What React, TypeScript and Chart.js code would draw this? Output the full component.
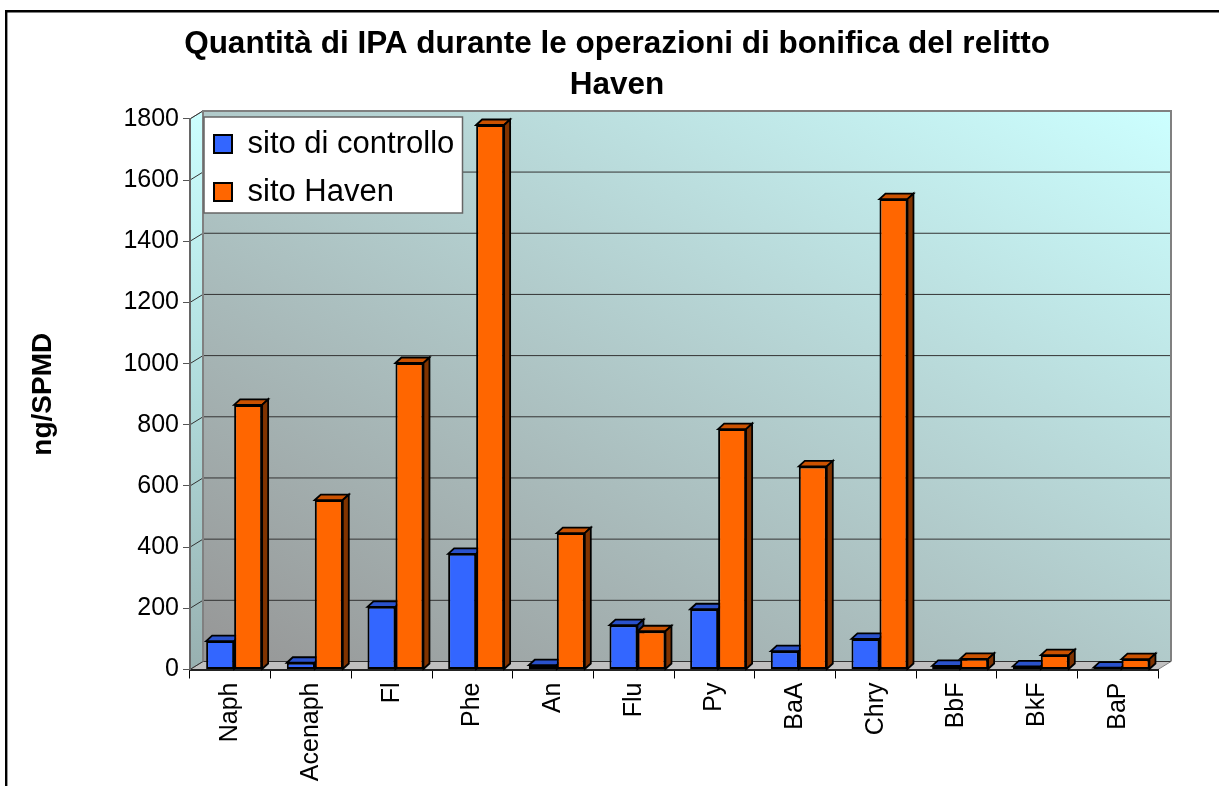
import React, { useEffect, useRef } from "react";
import { Chart, registerables } from "chart.js";

Chart.register(...registerables);

const categories = ["Naph", "Acenaph", "Fl", "Phe", "An", "Flu", "Py", "BaA", "Chry", "BbF", "BkF", "BaP"];
const controlSite = [93, 22, 205, 378, 14, 145, 197, 60, 100, 12, 10, 6];
const havenSite = [865, 554, 1002, 1780, 446, 125, 786, 664, 1538, 35, 47, 34];
const titleLines = ["Quantità di IPA durante le operazioni di bonifica del relitto", "Haven"];
const yTitle = "ng/SPMD";
const seriesNames = ["sito di controllo", "sito Haven"];

const FONT = "'Liberation Sans', Arial, sans-serif";
const WALL_DX = 13;
const WALL_DY = 8;
const BAR_SHIFT = 3.8;
const BAR_DX = 6;
const BAR_DY = 5.5;
const faces = [
  { top: "#2A52CC", side: "#1A337F" },
  { top: "#CC5200", side: "#803300" },
];

function poly(ctx: CanvasRenderingContext2D, pts: number[][], fill: string | CanvasGradient, stroke?: string, lw = 1) {
  ctx.beginPath();
  pts.forEach((p, i) => (i ? ctx.lineTo(p[0], p[1]) : ctx.moveTo(p[0], p[1])));
  ctx.closePath();
  ctx.fillStyle = fill;
  ctx.fill();
  if (stroke) {
    ctx.strokeStyle = stroke;
    ctx.lineWidth = lw;
    ctx.stroke();
  }
}

const scenePlugin = {
  id: "scene",
  afterLayout(chart: any) {
    const t = chart.titleBlock;
    t.left += 38;
    t.right += 38;
    const l = chart.legend;
    const w = l.width;
    const h = l.height;
    l.left = 197;
    l.top = 111.5;
    l.right = l.left + w;
    l.bottom = l.top + h;
  },
  afterDatasetsUpdate(chart: any) {
    chart.data.datasets.forEach((_: any, i: number) => {
      chart.getDatasetMeta(i).data.forEach((bar: any) => {
        bar.x += BAR_SHIFT;
      });
    });
  },
  beforeDraw(chart: any) {
    const { ctx, chartArea: a, scales, width, height } = chart;
    const y = scales.y;
    const L = a.left, R = a.right, T = a.top, B = a.bottom;
    ctx.save();
    // outer frame
    ctx.strokeStyle = "#000";
    ctx.lineWidth = 2.4;
    ctx.beginPath();
    ctx.moveTo(6.2, height + 5);
    ctx.lineTo(6.2, 11.2);
    ctx.lineTo(width + 5, 11.2);
    ctx.stroke();

    const bx = L + WALL_DX;
    const bxR = R + WALL_DX;
    const bT = T - WALL_DY;
    const bB = B - WALL_DY;
    // back wall: gradient stretched corner to corner in the wall's own unit square
    ctx.save();
    ctx.translate(bx, bT);
    ctx.scale(bxR - bx, bB - bT);
    const grad = ctx.createLinearGradient(0, 1, 1, 0);
    grad.addColorStop(0, "#969696");
    grad.addColorStop(1, "#CCFFFF");
    ctx.fillStyle = grad;
    ctx.fillRect(0, 0, 1, 1);
    ctx.restore();
    // left wall
    const side = ctx.createLinearGradient(L, B, bx, T - WALL_DY);
    side.addColorStop(0, "#98B0B0");
    side.addColorStop(0.5, "#B0DCDC");
    side.addColorStop(1, "#CCFFFF");
    poly(ctx, [[L, T], [bx, bT], [bx, bB], [L, B]], side, "#808080", 1);
    // floor
    poly(ctx, [[L, B], [bx, bB], [bxR, bB], [R, B]], "#C0C0C0", "#808080", 1);
    // grid lines
    y.ticks.forEach((tk: any) => {
      const py = y.getPixelForValue(tk.value);
      ctx.strokeStyle = "#333";
      ctx.lineWidth = 1;
      ctx.beginPath();
      ctx.moveTo(L, py);
      ctx.lineTo(bx, py - WALL_DY);
      ctx.lineTo(bxR, py - WALL_DY);
      ctx.stroke();
    });
    // wall outline on top of grid lines
    ctx.strokeStyle = "#808080";
    ctx.lineWidth = 2;
    ctx.beginPath();
    ctx.moveTo(bx, bB);
    ctx.lineTo(bx, bT);
    ctx.lineTo(bxR, bT);
    ctx.lineTo(bxR, bB);
    ctx.stroke();
    // legend panel
    ctx.fillStyle = "#fff";
    ctx.strokeStyle = "#666";
    ctx.lineWidth = 1.5;
    ctx.fillRect(204, 117, 258.5, 96);
    ctx.strokeRect(204, 117, 258.5, 96);
    ctx.restore();
  },
  beforeDatasetsDraw(chart: any) {
    const { ctx } = chart;
    ctx.save();
    chart.data.datasets.forEach((_: any, i: number) => {
      chart.getDatasetMeta(i).data.forEach((bar: any) => {
        const l = bar.x - bar.width / 2;
        const r = bar.x + bar.width / 2;
        const t = bar.y;
        const b = bar.base;
        poly(ctx, [[l, t], [l + BAR_DX, t - BAR_DY], [r + BAR_DX, t - BAR_DY], [r, t]], faces[i].top, "#000", 1.8);
        poly(ctx, [[r, t], [r + BAR_DX, t - BAR_DY], [r + BAR_DX, b - BAR_DY], [r, b]], faces[i].side, "#000", 1.8);
      });
    });
    ctx.restore();
  },
};

export default function App() {
  const ref = useRef<HTMLCanvasElement>(null);
  useEffect(() => {
    const chart = new Chart(ref.current as HTMLCanvasElement, {
      type: "bar",
      data: {
        labels: categories,
        datasets: [
          {
            label: seriesNames[0],
            data: controlSite,
            backgroundColor: "#3366FF",
            borderColor: "#000",
            borderWidth: 2,
            borderSkipped: false,
            barPercentage: 1,
            categoryPercentage: 0.694,
          },
          {
            label: seriesNames[1],
            data: havenSite,
            backgroundColor: "#FF6600",
            borderColor: "#000",
            borderWidth: 2,
            borderSkipped: false,
            barPercentage: 1,
            categoryPercentage: 0.694,
          },
        ],
      },
      options: {
        responsive: false,
        animation: false,
        layout: { padding: { left: 0, right: 61, top: 24, bottom: 0 } },
        plugins: {
          tooltip: { enabled: false },
          title: {
            display: true,
            text: titleLines,
            color: "#000",
            font: { family: FONT, size: 31.5, weight: "bold", lineHeight: 1.3 },
            padding: { top: 0, bottom: 13 },
          },
          legend: {
            display: true,
            position: "chartArea",
            align: "start",
            labels: {
              color: "#000",
              boxWidth: 18,
              boxHeight: 18,
              padding: 17,
              font: { family: FONT, size: 31 },
            },
          },
        },
        scales: {
          x: {
            type: "category",
            afterFit: (s: any) => {
              s.height = 116.5;
            },
            border: { color: "#222", width: 2 },
            grid: {
              offset: true,
              drawOnChartArea: false,
              drawTicks: true,
              tickLength: 9,
              tickColor: "#000",
              tickWidth: 1,
            },
            ticks: {
              autoSkip: false,
              minRotation: 90,
              maxRotation: 90,
              padding: 4,
              color: "#000",
              font: { family: FONT, size: 25 },
            },
          },
          y: {
            min: 0,
            max: 1800,
            afterFit: (s: any) => {
              s.width = 190;
            },
            title: {
              display: true,
              text: yTitle,
              color: "#000",
              font: { family: FONT, size: 28, weight: "bold" },
              padding: { top: 26, bottom: 0 },
            },
            border: { color: "#666", width: 2 },
            grid: {
              drawOnChartArea: false,
              drawTicks: true,
              tickLength: 7,
              tickColor: "#555",
              tickWidth: 1,
            },
            ticks: {
              stepSize: 200,
              padding: 4,
              color: "#000",
              font: { family: FONT, size: 25 },
              format: { useGrouping: false },
            },
          },
        },
      } as any,
      plugins: [scenePlugin as any],
    });
    return () => chart.destroy();
  }, []);
  return (
    <canvas
      ref={ref}
      width={1219}
      height={786}
      style={{ position: "absolute", left: 0, top: 0, width: 1219, height: 786, display: "block" }}
    />
  );
}
